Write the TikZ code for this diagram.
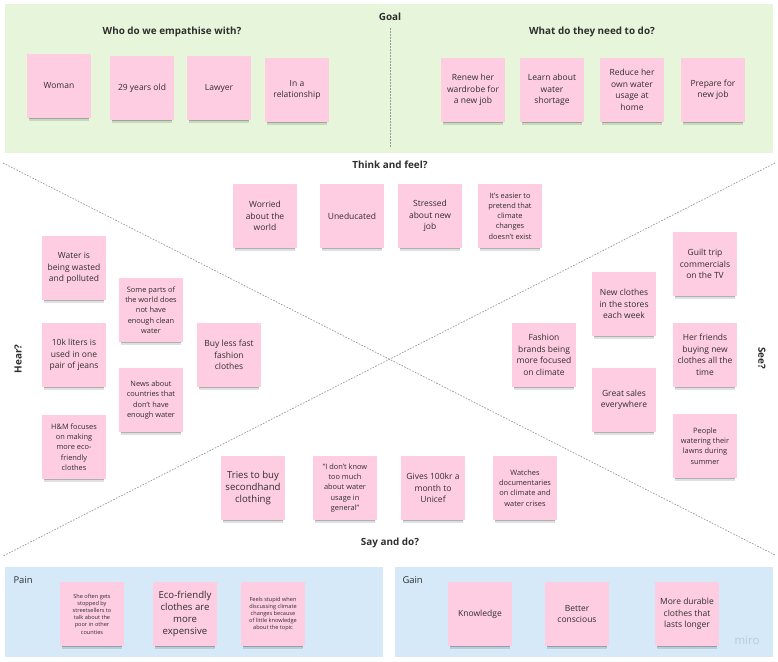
\documentclass[tikz,border=0pt]{standalone}
\usepackage{fontspec}
\setmainfont{Open Sans}
\usepackage{tikz}
\usetikzlibrary{shadows}

\definecolor{goalgreen}{HTML}{E7F5DB}
\definecolor{panelblue}{HTML}{D5E9F8}
\definecolor{notepink}{HTML}{FFCDE1}
\definecolor{ink}{HTML}{2E2E2E}
\definecolor{mirogray}{HTML}{BACBDA}

\begin{document}
\begin{tikzpicture}[x=1pt,y=-1pt,
  note/.style={fill=notepink, minimum width=64pt, minimum height=64pt,
    inner sep=1pt, align=center, text=ink,
    font=\fontsize{8.5}{11.5}\selectfont,
    general shadow={fill=black, opacity=0.12, shadow yshift=-6pt,
      shadow scale=0.93},
    general shadow={fill=black, opacity=0.22, shadow yshift=-4pt,
      shadow scale=0.93}},
  smallnote/.style={font=\fontsize{7.4}{10.3}\selectfont},
  tinynote/.style={font=\fontsize{5.6}{7.2}\selectfont},
  bignote/.style={font=\fontsize{9.6}{12}\selectfont},
  heading/.style={font=\bfseries\fontsize{9.9}{12}\selectfont, text=ink},
  panellabel/.style={anchor=west, font=\fontsize{9.4}{11}\selectfont, text=ink},
  divider/.style={gray!80, dash pattern=on 1.6pt off 1.4pt, line width=0.7pt}]
  \useasboundingbox (0,0) rectangle (778,661);

  % panels
  \fill[goalgreen] (5,4) rectangle (773,153);
  \fill[panelblue] (5,567) rectangle (383,657);
  \fill[panelblue] (395,567) rectangle (773,657);

  % dividers
  \coordinate (gtop) at (390,28);
  \coordinate (gbot) at (390,148);
  \coordinate (ul) at (3,163);
  \coordinate (ur) at (775,163);
  \coordinate (ll) at (3,556);
  \coordinate (lr) at (775,555);
  \draw[divider] (gtop) -- (gbot);
  \draw[divider] (ul) -- (lr);
  \draw[divider] (ur) -- (ll);

  % goal
  \node[heading] (goal) at (390,17) {Goal};
  \node[heading] (who) at (172,32) {Who do we empathise with?};
  \node[heading] (what) at (592,32) {What do they need to do?};
  \node[note] (woman) at (59,86) {Woman};
  \node[note] (age) at (142,88) {29 years old};
  \node[note] (lawyer) at (219,88) {Lawyer};
  \node[note] (relation) at (297,90) {In a\\relationship};
  \node[note] (wardrobe) at (473,90) {Renew her\\wardrobe for\\a new job};
  \node[note] (learn) at (552,90) {Learn about\\water\\shortage};
  \node[note] (reduce) at (632,90) {Reduce her\\own water\\usage at\\home};
  \node[note] (prepare) at (713,90) {Prepare for\\new job};

  % think and feel
  \node[heading] (think) at (390,165) {Think and feel?};
  \node[note] (worried) at (265,216) {Worried\\about the\\world};
  \node[note] (uneducated) at (352,216) {Uneducated};
  \node[note] (stressed) at (430,216) {Stressed\\about new\\job};
  \node[note,smallnote] (easier) at (510,216) {It's easier to\\pretend that\\climate\\changes\\doesn't exist};

  % hear
  \node[heading,rotate=90] (hear) at (18,359) {Hear?};
  \node[note] (wasted) at (74,268) {Water is\\being wasted\\and polluted};
  \node[note,smallnote] (parts) at (151,310) {Some parts of\\the world does\\not have\\enough clean\\water};
  \node[note] (liters) at (74,355) {10k liters is\\used in one\\pair of jeans};
  \node[note] (buyless) at (229,355) {Buy less fast\\fashion\\clothes};
  \node[note,smallnote] (news) at (151,400) {News about\\countries that\\don't have\\enough water};
  \node[note,smallnote] (hm) at (74,447) {H\&M focuses\\on making\\more eco-\\friendly\\clothes};

  % see
  \node[heading,rotate=-90] (see) at (762,358) {See?};
  \node[note] (guilt) at (705,264) {Guilt trip\\commercials\\on the TV};
  \node[note] (stores) at (624,304) {New clothes\\in the stores\\each week};
  \node[note] (brands) at (544,355) {Fashion\\brands being\\more focused\\on climate};
  \node[note] (friends) at (705,355) {Her friends\\buying new\\clothes all the\\time};
  \node[note] (sales) at (624,400) {Great sales\\everywhere};
  \node[note,smallnote] (lawns) at (705,446) {People\\watering their\\lawns during\\summer};

  % say and do
  \node[note,bignote] (tries) at (253,488) {Tries to buy\\secondhand\\clothing};
  \node[note,smallnote] (dontknow) at (345,488) {"I don't know\\too much\\about water\\usage in\\general"};
  \node[note] (gives) at (433,488) {Gives 100kr a\\month to\\Unicef};
  \node[note,smallnote] (docs) at (525,488) {Watches\\documentaries\\on climate and\\water crises};
  \node[heading] (say) at (390,543) {Say and do?};

  % pain and gain
  \node[panellabel] (pain) at (10,580) {Pain};
  \node[note,tinynote] (sellers) at (92,614) {She often gets\\stopped by\\streetsellers to\\talk about the\\poor in other\\counties};
  \node[note,bignote] (eco) at (185,614) {Eco-friendly\\clothes are\\more\\expensive};
  \node[note,tinynote] (stupid) at (273,614) {Feels stupid when\\discussing climate\\changes because\\of little knowledge\\about the topic};
  \node[panellabel] (gain) at (399,580) {Gain};
  \node[note] (knowledge) at (480,614) {Knowledge};
  \node[note] (conscious) at (577,614) {Better\\conscious};
  \node[note] (durable) at (687,614) {More durable\\clothes that\\lasts longer};
  \node[text=mirogray, font=\fontsize{11.5}{13}\selectfont] (miro) at (747,640) {miro};
\end{tikzpicture}
\end{document}
